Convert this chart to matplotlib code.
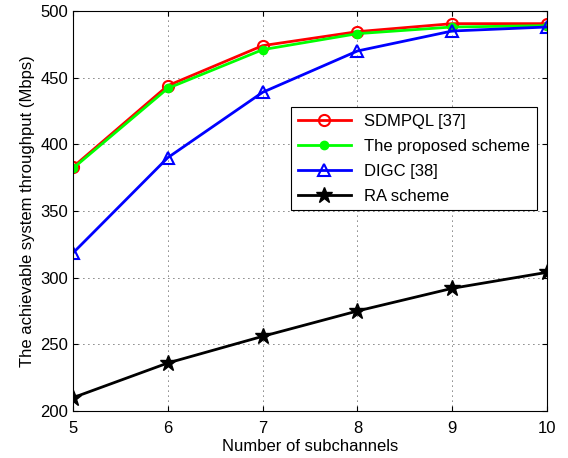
import matplotlib
matplotlib.use('Agg')
import matplotlib.pyplot as plt

plt.rcParams['font.family'] = ['Liberation Sans', 'DejaVu Sans']

subchannels = [5, 6, 7, 8, 9, 10]
sdmpql = [383, 444, 474, 484.5, 490.5, 490.5]
proposed = [382, 442, 471, 483, 488, 489]
digc = [318.5, 390, 439, 470, 485, 488]
ra = [210, 236, 256, 275, 292, 304]

fig = plt.figure(figsize=(5.68, 4.58), dpi=100)
ax = fig.add_axes([0.1285, 0.1026, 0.8345, 0.8734])

ax.plot(subchannels, sdmpql, color='red', lw=2, marker='o', ms=8,
        mfc='none', mew=1.5, label='SDMPQL [37]')
ax.plot(subchannels, proposed, color='#00ff00', lw=2, marker='o', ms=6,
        mfc='#00ff00', mec='#00ff00', label='The proposed scheme')
ax.plot(subchannels, digc, color='blue', lw=2, marker='^', ms=9,
        mfc='none', mew=1.5, label='DIGC [38]')
ax.plot(subchannels, ra, color='black', lw=2, marker='*', ms=12,
        label='RA scheme')

ax.set_xlim(5, 10)
ax.set_ylim(200, 500)
ax.set_xticks(subchannels)
ax.set_yticks([200, 250, 300, 350, 400, 450, 500])
ax.grid(True, color='black', linestyle=(0, (1, 5)), linewidth=0.6)
ax.tick_params(direction='in', top=True, right=True, labelsize=12)
ax.tick_params(axis='x', pad=7)
ax.set_xlabel('Number of subchannels', fontsize=12, labelpad=2)
ax.set_ylabel('The achievable system throughput (Mbps)', fontsize=12)

leg = ax.legend(loc='upper left', bbox_to_anchor=(0.46, 0.76), fontsize=12,
                fancybox=False, framealpha=1, edgecolor='black',
                borderaxespad=0, handlelength=3.2, labelspacing=0.6)
leg.get_frame().set_linewidth(0.8)

fig.savefig('out.png', dpi=100)
